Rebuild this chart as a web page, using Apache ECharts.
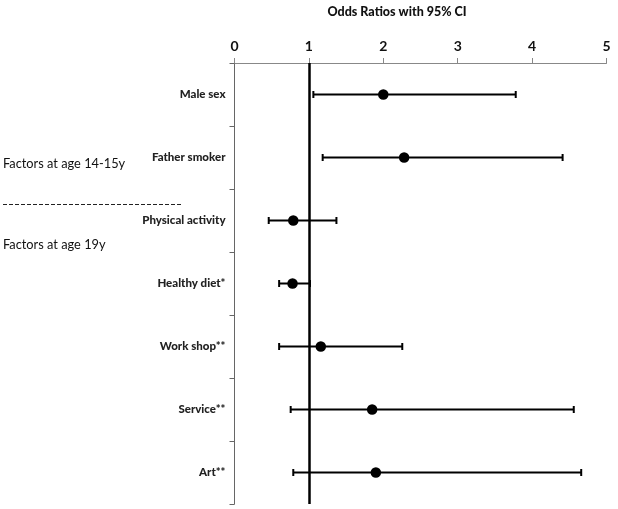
<!DOCTYPE html>
<html>
<head>
<meta charset="utf-8">
<script src="https://cdn.jsdelivr.net/npm/echarts@6/dist/echarts.min.js"></script>
<style>html,body{margin:0;padding:0;background:#fff}#c{width:618px;height:509px}</style>
</head>
<body>
<div id="c"></div>
<script>
const categories = ['Male sex', 'Father smoker', 'Physical activity', 'Healthy diet*', 'Work shop**', 'Service**', 'Art**'];
const oddsRatio = [2.0, 2.28, 0.79, 0.78, 1.16, 1.85, 1.9];
const ciLower = [1.06, 1.185, 0.46, 0.60, 0.60, 0.755, 0.79];
const ciUpper = [3.78, 4.41, 1.37, 1.015, 2.255, 4.56, 4.66];
const xTicks = [0, 1, 2, 3, 4, 5];
const titleText = 'Odds Ratios with 95% CI';
const groupLabels = ['Factors at age 14-15y', 'Factors at age 19y'];

const FONT = 'Lato, "Open Sans", sans-serif';
const chart = echarts.init(document.getElementById('c'), null, {renderer: 'canvas'});

const errData = categories.map((c, i) => [ciLower[i], ciUpper[i], c]);
const ptData = categories.map((c, i) => [oddsRatio[i], c]);

chart.setOption({
  animation: false,
  backgroundColor: '#fff',
  title: {
    text: titleText,
    left: 392, top: 0, textAlign: 'center',
    textStyle: {fontFamily: FONT, fontWeight: 900, fontSize: 12.5, color: '#111'}
  },
  grid: {left: 234.5, right: 11.5, top: 63, bottom: 5, containLabel: false},
  xAxis: {
    type: 'value', position: 'top', min: xTicks[0], max: xTicks[xTicks.length - 1], interval: 1,
    axisLine: {show: true, lineStyle: {color: '#888', width: 1}},
    axisTick: {show: true, length: 5, lineStyle: {color: '#888'}},
    splitLine: {show: false},
    axisLabel: {fontFamily: FONT, fontWeight: 'bold', fontSize: 14, color: '#111', margin: 10}
  },
  yAxis: {
    type: 'category', data: categories, inverse: true,
    axisLine: {show: true, lineStyle: {color: '#666', width: 1}},
    axisTick: {show: true, length: 5, alignWithLabel: false, lineStyle: {color: '#666'}},
    splitLine: {show: false},
    axisLabel: {fontFamily: FONT, fontWeight: 900, fontSize: 11.5, color: '#222', margin: 9}
  },
  series: [
    {
      type: 'custom',
      data: errData,
      encode: {x: [0, 1], y: 2},
      renderItem: function (params, api) {
        const lo = api.coord([api.value(0), api.value(2)]);
        const hi = api.coord([api.value(1), api.value(2)]);
        const h = 3.5;
        const st = {stroke: '#000', lineWidth: 2};
        return {
          type: 'group',
          children: [
            {type: 'line', shape: {x1: lo[0], y1: lo[1], x2: hi[0], y2: hi[1]}, style: st},
            {type: 'line', shape: {x1: lo[0], y1: lo[1] - h, x2: lo[0], y2: lo[1] + h}, style: st},
            {type: 'line', shape: {x1: hi[0], y1: hi[1] - h, x2: hi[0], y2: hi[1] + h}, style: st}
          ]
        };
      },
      z: 2
    },
    {
      type: 'scatter',
      data: ptData,
      symbol: 'circle',
      symbolSize: 10.5,
      itemStyle: {color: '#000', opacity: 1},
      z: 3,
      markLine: {
        silent: true,
        symbol: ['none', 'none'],
        label: {show: false},
        lineStyle: {color: '#000', width: 2.5, type: 'solid', opacity: 1},
        data: [{xAxis: 1}]
      }
    }
  ],
  graphic: [
    {type: 'text', left: 3, top: 157, style: {text: groupLabels[0], fontFamily: FONT, fontSize: 12.8, fill: '#111'}},
    {type: 'text', left: 3, top: 238, style: {text: groupLabels[1], fontFamily: FONT, fontSize: 12.8, fill: '#111'}},
    {type: 'line', shape: {x1: 3, y1: 204.5, x2: 182, y2: 204.5}, style: {stroke: '#222', lineWidth: 1, lineDash: [4, 2]}}
  ]
});
</script>
</body>
</html>
